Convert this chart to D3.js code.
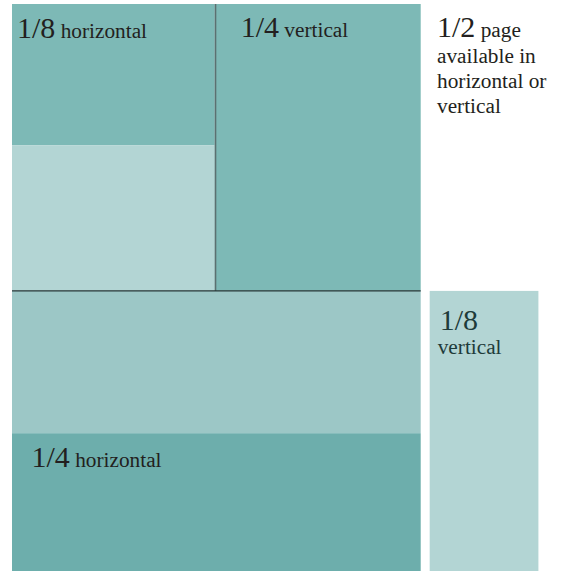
<!DOCTYPE html>
<html>
<head>
<meta charset="utf-8">
<script src="https://cdn.jsdelivr.net/npm/d3@7"></script>
<style>
  body { margin: 0; background: #fff; }
  svg text, svg tspan { font-family: "Liberation Serif", "DejaVu Serif", serif; }
</style>
</head>
<body>
<svg id="chart"></svg>
<script>
// page units: 0..100 across the page width / height
const blockNames = ['1/8 horizontal', 'lower 1/8', '1/4 vertical', 'upper 1/4', '1/4 horizontal', '1/8 vertical'];
const blockX0 = [0, 0, 49.6, 0, 0, 102.2];
const blockX1 = [49.6, 49.6, 100, 100, 100, 128.8];
const blockY0 = [0, 24.9, 0, 50.6, 75.7, 50.6];
const blockY1 = [24.9, 50.6, 50.6, 75.7, 100, 100];
const blockFills = ['#7db9b6', '#b3d5d4', '#7db9b6', '#9cc7c6', '#6daeac', '#b3d5d4'];

const noteLines = ['available in', 'horizontal or', 'vertical'];

const W = 561, H = 571;
const BIG = 30, SMALL = 21.3;
const FONT = '"Liberation Serif", "DejaVu Serif", serif';
const svg = d3.select('#chart').attr('width', W).attr('height', H);

const x = d3.scaleLinear().domain([0, 100]).range([12, 420.7]);
const y = d3.scaleLinear().domain([0, 100]).range([4, 571]);

let blocks = blockNames.map((name, i) => {
  return {name: name, x0: blockX0[i], x1: blockX1[i], y0: blockY0[i], y1: blockY1[i], fill: blockFills[i]};
});

svg.selectAll('rect.block').data(blocks).enter().append('rect')
  .attr('class', 'block')
  .attr('x', d => x(d.x0))
  .attr('y', d => y(d.y0))
  .attr('width', d => x(d.x1) - x(d.x0))
  .attr('height', d => y(d.y1) - y(d.y0))
  .attr('fill', d => d.fill);

// divider between the two top quarters
svg.append('line')
  .attr('x1', x(49.6) + 0.8).attr('x2', x(49.6) + 0.8)
  .attr('y1', y(0)).attr('y2', y(50.6))
  .attr('stroke', '#5b7070').attr('stroke-width', 1.6);

// line splitting the page in half
svg.append('line')
  .attr('x1', x(0)).attr('x2', x(100))
  .attr('y1', y(50.6)).attr('y2', y(50.6))
  .attr('stroke', '#263636').attr('stroke-width', 1.2);

const addText = (px, py, color) => {
  return svg.append('text').attr('x', px).attr('y', py)
    .attr('fill', color).attr('font-family', FONT);
}

// label offsets from the block's top left corner
const labelPos = {
  '1/8 horizontal': {dx: 5, dy: 34},
  '1/4 vertical': {dx: 26, dy: 33},
  '1/4 horizontal': {dx: 19.5, dy: 34},
};

blocks.filter(d => labelPos[d.name]).forEach(d => {
  const parts = d.name.split(' ');
  const p = labelPos[d.name];
  let t = addText(x(d.x0) + p.dx, y(d.y0) + p.dy, '#231f20');
  t.append('tspan').attr('font-size', BIG).text(parts[0]);
  t.append('tspan').attr('font-size', SMALL).text(' ' + parts[1]);
});

// the stand-alone 1/8 vertical sample gets a stacked label
const v8 = blocks.find(d => d.name == '1/8 vertical');
addText(x(v8.x0) + 10, y(v8.y0) + 39, '#1e3b3a')
  .attr('font-size', BIG).text(v8.name.split(' ')[0]);
addText(x(v8.x0) + 8, y(v8.y0) + 63, '#1e3b3a')
  .attr('font-size', SMALL).text(v8.name.split(' ')[1]);

// note on the half page
let note = addText(437, 37, '#231f20');
note.append('tspan').attr('font-size', BIG).text('1/2');
note.append('tspan').attr('font-size', SMALL).text(' page');
noteLines.forEach((line, i) => {
  addText(437, 62.5 + i * 25.3, '#231f20').attr('font-size', SMALL).text(line);
});
</script>
</body>
</html>
